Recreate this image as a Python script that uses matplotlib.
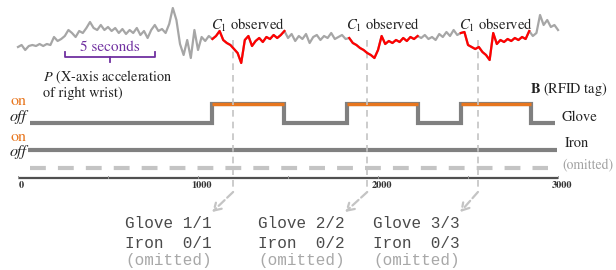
import numpy as np
import matplotlib.pyplot as plt

plt.rcParams['font.family'] = 'STIXGeneral'
plt.rcParams['mathtext.fontset'] = 'stix'

# P: X-axis acceleration of right wrist, one sample every 20 ticks
t = np.arange(0, 3001, 20)
accel = [-2, 0, -5, -1, 0, -1, 1, -1, 1, 0,
         8, 4, 6, 9, 15, 12, 8, 14, 12, 17,
         23, 17, 15, 20, 15, 18, 14, 17, 12, 16,
         11, 15, 12, 17, 10, 14, 7, 15, 20, 14,
         16, 12, 21, 37, 25, 1, -10, 5, -13, 15,
         -5, 8, 4, 9, 6, 9, 14, 5, 2, 0,
         -4, -8, -18, 5, 9, -1, 4, 7, 3, 8,
         6, 10, 7, 10, 14, 7, 11, 4, 9, 6,
         11, 2, 8, 10, 5, 9, 7, 12, 6, 8,
         10, 6, 7, 2, 0, -3, -5, -8, -10, -13,
         -5, 9, 1, 4, 2, 5, 3, 7, 4, 8,
         6, 9, 7, 10, 6, 8, 5, 11, 8, 13,
         9, 15, 10, 12, 13, 0, -2, -4, -2, -7,
         -10, -15, 12, 1, 5, 3, 6, 4, 7, 5,
         8, 6, 14, 9, 12, 30, 20, 25, 18, 20,
         15]

# B: RFID tag on-intervals
glove_on = [(1080, 1480), (1830, 2220), (2460, 2850)]
iron_on = []

guide_x = [1195, 1940, 2555]
ticks = [0, 1000, 2000, 3000]
summary_x = [594, 1333, 1972]
summary = [("Glove 1/1", "Iron  0/1"),
           ("Glove 2/2", "Iron  0/2"),
           ("Glove 3/3", "Iron  0/3")]

GRAY = '#808080'
ORANGE = '#e8761e'
LIGHT = '#c4c4c4'
PURPLE = '#7030a0'

fig = plt.figure(figsize=(6.16, 2.70), dpi=100)
ax = fig.add_axes([0, 0, 1, 1])
ax.set_xlim(-100, 3322)
ax.set_ylim(270, 0)
ax.axis('off')

ax_sig = fig.add_axes([0, 1 - 70 / 270, 1, 70 / 270])
ax_sig.set_xlim(-100, 3322)
ax_sig.set_ylim(-25, 45)
ax_sig.axis('off')
ax_sig.patch.set_alpha(0)

# --- signal P, red where glove observed
accel = np.array(accel, dtype=float)
ax_sig.plot(t, accel, color='#a6a6a6', lw=1.6)
red = np.full_like(accel, np.nan)
for a, b in glove_on:
    m = (t >= a) & (t <= b)
    red[m] = accel[m]
ax_sig.plot(t, red, color='#ff0000', lw=1.6)

for a, b in glove_on:
    ax.text((a + b) / 2, 25, r'$C_\mathit{1}$ observed', ha='center', va='center',
            fontsize=10.5, color='#222222')

# 5 seconds bracket
ax.plot([260, 260, 760, 760], [52, 57, 57, 52], color=PURPLE, lw=1.3)
ax.plot([510, 510], [57, 62], color=PURPLE, lw=1.3)
ax.text(510, 47, '5 seconds', ha='center', va='center', fontsize=11, color=PURPLE)

ax.text(139, 77, r'$P$ (X-axis acceleration', ha='left', va='center', fontsize=10.3, color='#222222')
ax.text(139, 93, 'of right wrist)', ha='left', va='center', fontsize=10.3, color='#222222')
ax.text(2844, 89, r'$\mathbf{B}$ (RFID tag)', ha='left', va='center', fontsize=10.3, color='#222222')


def step_row(intervals, x0, x1, y_off, y_on):
    xs, ys = [x0], [y_off]
    for a, b in intervals:
        xs += [a, a, b, b]
        ys += [y_off, y_on, y_on, y_off]
    xs.append(x1)
    ys.append(y_off)
    ax.plot(xs, ys, color=GRAY, lw=3, solid_joinstyle='miter', solid_capstyle='butt')
    for a, b in intervals:
        ax.plot([a, b], [y_on, y_on], color=ORANGE, lw=2.4, solid_capstyle='butt')


step_row(glove_on, 67, 2983, 123, 104)
step_row(iron_on, 55, 2995, 150, 140)
ax.plot([67, 2944], [168, 168], color=LIGHT, lw=3, dashes=(3.8, 2.9))

for y_on, y_off in [(101, 116.5), (137.5, 152)]:
    ax.text(0, y_on, 'on', ha='center', va='center', fontsize=11.5, color=ORANGE)
    ax.text(0, y_off, 'off', ha='center', va='center', fontsize=11.5, style='italic', color='#222222')

ax.text(3022, 117, 'Glove', ha='left', va='center', fontsize=10.5, color='#222222')
ax.text(3039, 143, 'Iron', ha='left', va='center', fontsize=10.5, color='#222222')
ax.text(3022, 166, '(omitted)', ha='left', va='center', fontsize=9.8, color='#a0a0a0')

# time axis
ax.plot([0, 3000], [178, 178], color='#505050', lw=1.6, solid_capstyle='butt')
for v in range(0, 3001, 500):
    ax.plot([v, v], [175.5, 178], color='#999999', lw=0.7)
for v in ticks:
    ax.text(v + 20, 185, str(v), ha='center', va='center', fontsize=7.5,
            fontweight='bold', color='#333333')

# guides from observation to summary
for gx, sx in zip(guide_x, summary_x):
    ax.plot([gx, gx], [40, 192], color=LIGHT, lw=1.2, dashes=(4, 3))
    ax.annotate('', xy=(sx + 485, 212), xytext=(gx, 192),
                arrowprops=dict(arrowstyle='->,head_length=0.5,head_width=0.3',
                                color=LIGHT, lw=1.6, ls='--', shrinkA=0, shrinkB=0))

for sx, (g, i) in zip(summary_x, summary):
    ax.text(sx, 223, g, ha='left', va='center', family='Liberation Mono', fontsize=11.5, color='#4a4a4a')
    ax.text(sx, 243, i, ha='left', va='center', family='Liberation Mono', fontsize=11.5, color='#4a4a4a')
    ax.text(sx, 261, '(omitted)', ha='left', va='center', family='Liberation Mono', fontsize=11.5, color='#a8a8a8')

fig.savefig('out.png', dpi=100)
